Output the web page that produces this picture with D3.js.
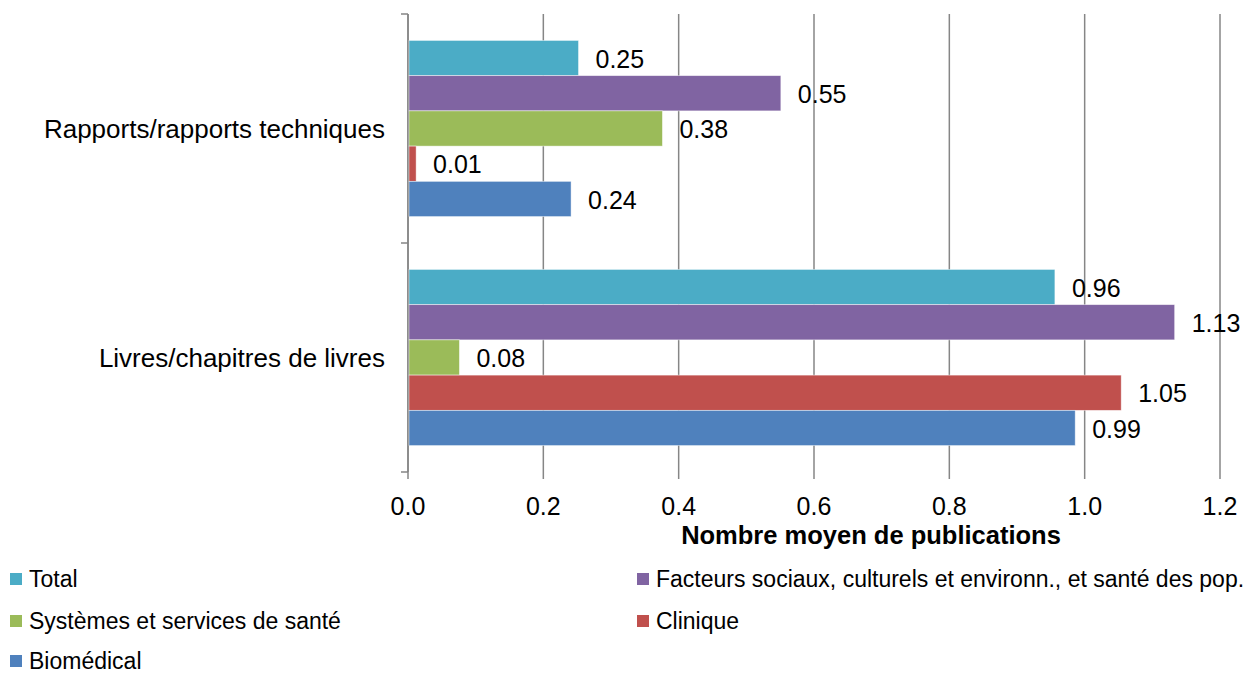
<!DOCTYPE html>
<html><head><meta charset="utf-8">
<script src="https://cdn.jsdelivr.net/npm/d3@7"></script>
<style>body{margin:0;background:#fff;} text{font-family:"Liberation Sans",Arial,sans-serif;}</style>
</head><body><svg id="c" width="1247" height="673"></svg>
<script>
const categories = ["Rapports/rapports techniques", "Livres/chapitres de livres"];
const seriesNames = ["Total", "Facteurs sociaux, culturels et environn., et santé des pop.", "Systèmes et services de santé", "Clinique", "Biomédical"];
const seriesColors = ["#4BACC6", "#8064A2", "#9BBB59", "#C0504D", "#4F81BD"];
const totalVals = [0.252, 0.956];
const facteursVals = [0.551, 1.133];
const systemesVals = [0.376, 0.076];
const cliniqueVals = [0.012, 1.054];
const biomedVals = [0.241, 0.986];
const xTicks = [0, 0.2, 0.4, 0.6, 0.8, 1.0, 1.2];
const axisTitle = "Nombre moyen de publications";

const values = [totalVals, facteursVals, systemesVals, cliniqueVals, biomedVals];
const svg = d3.select("#c");
const x = d3.scaleLinear().domain([0, 1.2]).range([408, 1220]);
const y = d3.scaleBand().domain(categories).range([14, 472]).paddingInner(0).paddingOuter(0);
const inner = d3.scaleBand().domain(d3.range(seriesNames.length)).range([0, y.bandwidth()]).paddingInner(0).paddingOuter(0.75);

// gridlines
svg.append("g").selectAll("line").data(xTicks).join("line")
  .attr("x1", d => x(d)).attr("x2", d => x(d)).attr("y1", 14).attr("y2", 479)
  .attr("stroke", "#868686").attr("stroke-width", 1.5);

// left axis line + ticks
svg.append("line").attr("x1", 408).attr("x2", 408).attr("y1", 14).attr("y2", 472).attr("stroke", "#868686").attr("stroke-width", 1.5);
const bounds = [14, y(categories[1]), 472];
svg.append("g").selectAll("line").data(bounds).join("line")
  .attr("x1", 401).attr("x2", 408).attr("y1", d => d).attr("y2", d => d)
  .attr("stroke", "#868686").attr("stroke-width", 1.5);

// bars
categories.forEach((cat, ci) => {
  const g = svg.append("g");
  values.forEach((arr, si) => {
    const v = arr[ci];
    const yy = y(cat) + inner(si);
    g.append("rect").attr("x", x(0) + 1).attr("y", yy).attr("width", x(v) - x(0) - 1).attr("height", inner.bandwidth())
      .attr("fill", seriesColors[si]).attr("stroke", "#ffffff").attr("stroke-opacity", 0.6).attr("stroke-width", 0.75);
    g.append("text").attr("x", x(v) + 17).attr("y", yy + inner.bandwidth() / 2 + 1).attr("dy", "0.35em")
      .attr("font-size", 25).attr("fill", "#000").text(d3.format(".2f")(v));
  });
});

// category labels
svg.append("g").selectAll("text").data(categories).join("text")
  .attr("x", 385).attr("y", d => y(d) + y.bandwidth() / 2).attr("dy", "0.35em")
  .attr("text-anchor", "end").attr("font-size", 26).attr("fill", "#000").text(d => d);

// x tick labels
svg.append("g").selectAll("text").data(xTicks).join("text")
  .attr("x", d => x(d)).attr("y", 506).attr("dy", "0.35em").attr("text-anchor", "middle")
  .attr("font-size", 25).attr("fill", "#000").text(d => d3.format(".1f")(d));

svg.append("text").attr("x", 871).attr("y", 535).attr("dy", "0.35em").attr("text-anchor", "middle")
  .attr("font-size", 25.5).attr("font-weight", "bold").attr("fill", "#000").text(axisTitle);

// legend
const legPos = [[10, 579], [637, 579], [10, 621], [637, 621], [10, 661]];
seriesNames.forEach((n, i) => {
  const [lx, ly] = legPos[i];
  svg.append("rect").attr("x", lx).attr("y", ly - 6).attr("width", 12).attr("height", 12).attr("fill", seriesColors[i]);
  svg.append("text").attr("x", lx + 19).attr("y", ly).attr("dy", "0.35em").attr("font-size", 23)
    .attr("fill", "#000").text(n);
});
</script></body></html>
